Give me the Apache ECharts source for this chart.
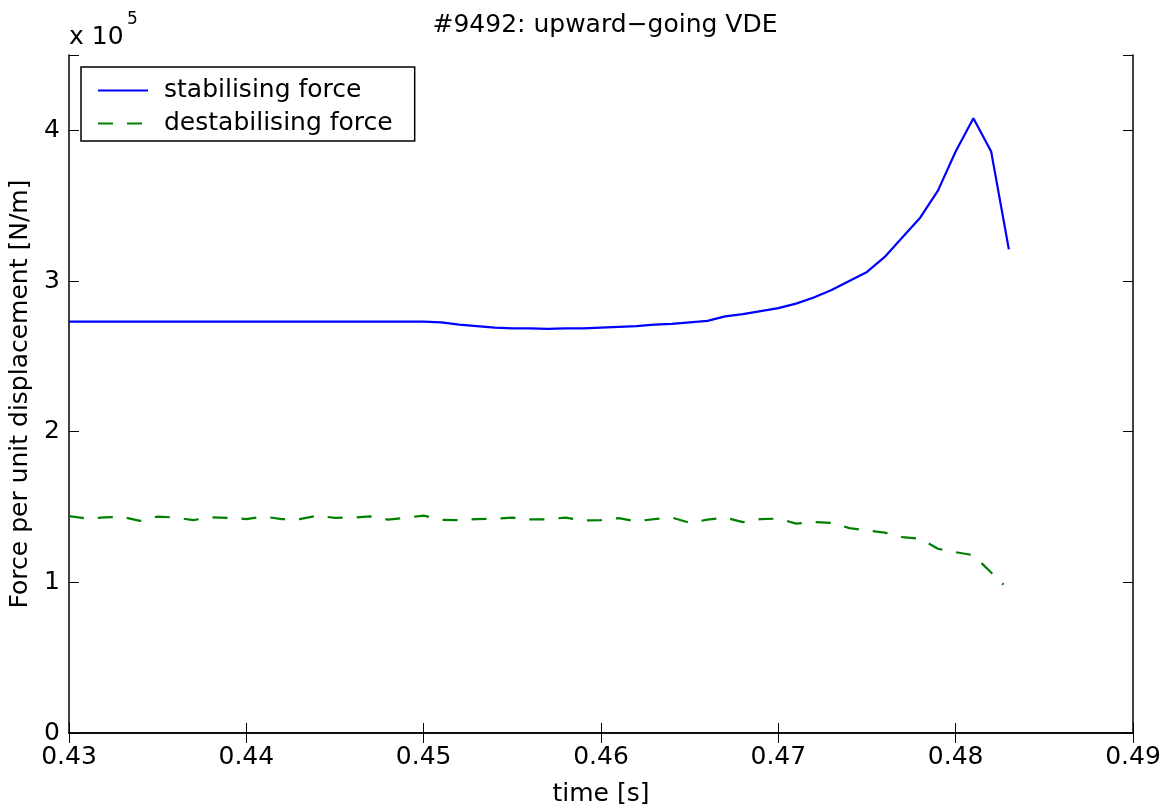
<!DOCTYPE html>
<html>
<head>
<meta charset="utf-8">
<title>#9492: upward−going VDE</title>
<script src="https://cdn.jsdelivr.net/npm/echarts@6/dist/echarts.min.js"></script>
<style>
  html, body { margin: 0; padding: 0; background: #fff; }
  #chart { width: 1171px; height: 812px; }
</style>
</head>
<body>
<div id="chart"></div>
<script>
// Shot #9492, upward-going vertical displacement event.
// Forces are in units of 1e5 N/m (the axis carries the "x 10^5" multiplier).

const timeStab = [
  0.430, 0.431, 0.432, 0.433, 0.434, 0.435, 0.436, 0.437, 0.438, 0.439,
  0.440, 0.441, 0.442, 0.443, 0.444, 0.445, 0.446, 0.447, 0.448, 0.449,
  0.450, 0.451, 0.452, 0.453, 0.454, 0.455, 0.456, 0.457, 0.458, 0.459,
  0.460, 0.461, 0.462, 0.463, 0.464, 0.465, 0.466, 0.467, 0.468, 0.469,
  0.470, 0.471, 0.472, 0.473, 0.474, 0.475, 0.476, 0.477, 0.478, 0.479,
  0.480, 0.481, 0.482, 0.483
];
const stabilising = [
  2.73, 2.73, 2.73, 2.73, 2.73, 2.73, 2.73, 2.73, 2.73, 2.73,
  2.73, 2.73, 2.73, 2.73, 2.73, 2.73, 2.73, 2.73, 2.73, 2.73,
  2.73, 2.725, 2.71, 2.70, 2.69, 2.685, 2.685, 2.682, 2.685, 2.685,
  2.69, 2.695, 2.70, 2.71, 2.715, 2.725, 2.735, 2.765, 2.78, 2.80,
  2.82, 2.85, 2.89, 2.94, 3.00, 3.06, 3.16, 3.29, 3.42, 3.60,
  3.86, 4.08, 3.86, 3.21
];

const timeDestab = [
  0.430, 0.431, 0.432, 0.433, 0.434, 0.435, 0.436, 0.437, 0.438, 0.439,
  0.440, 0.441, 0.442, 0.443, 0.444, 0.445, 0.446, 0.447, 0.448, 0.449,
  0.450, 0.451, 0.452, 0.453, 0.454, 0.455, 0.456, 0.457, 0.458, 0.459,
  0.460, 0.461, 0.462, 0.463, 0.464, 0.465, 0.466, 0.467, 0.468, 0.469,
  0.470, 0.471, 0.472, 0.473, 0.474, 0.475, 0.476, 0.477, 0.478, 0.479,
  0.480, 0.481, 0.482, 0.4827
];
const destabilising = [
  1.439, 1.423, 1.431, 1.434, 1.408, 1.436, 1.430, 1.413, 1.431, 1.428,
  1.420, 1.436, 1.420, 1.420, 1.442, 1.428, 1.430, 1.438, 1.416, 1.429,
  1.443, 1.415, 1.413, 1.420, 1.421, 1.430, 1.418, 1.418, 1.430, 1.410,
  1.413, 1.426, 1.405, 1.420, 1.430, 1.395, 1.416, 1.430, 1.400, 1.420,
  1.423, 1.390, 1.400, 1.395, 1.360, 1.345, 1.330, 1.300, 1.290, 1.223,
  1.200, 1.180, 1.065, 0.985
];

const xTicks = { min: 0.43, max: 0.49, step: 0.01 };
const yTicks = { min: 0, max: 4.5, step: 1 };

const FONT = 'DejaVu Sans';
const FS = 25;

function pairs(xs, ys) { return xs.map((x, i) => [x, ys[i]]); }

const frame = { lineStyle: { color: '#000', width: 1.5 } };
const tickIn = { show: true, inside: true, length: 10, lineStyle: { color: '#000', width: 1 } };

const chart = echarts.init(document.getElementById('chart'), null, { renderer: 'canvas' });

chart.setOption({
  backgroundColor: '#fff',
  animation: false,
  textStyle: { fontFamily: FONT },
  title: {
    text: '#9492: upward−going VDE',
    left: 600, top: 8, textAlign: 'center',
    textStyle: { fontFamily: FONT, fontSize: FS, fontWeight: 'normal', color: '#000' }
  },
  grid: { left: 69, right: 38, top: 55, bottom: 76, containLabel: false },
  legend: {
    left: 81, top: 67,
    orient: 'vertical',
    backgroundColor: '#fff',
    borderColor: '#000', borderWidth: 1.5, borderRadius: 0,
    padding: [11, 22, 5, 16],
    itemWidth: 50, itemHeight: 20, itemGap: 8,
    itemStyle: { opacity: 0 },
    textStyle: { fontFamily: FONT, fontSize: FS, color: '#000', padding: [0, 0, 0, 11] },
    data: ['stabilising force', 'destabilising force']
  },
  xAxis: [
    {
      type: 'value', position: 'bottom',
      min: xTicks.min, max: xTicks.max, interval: xTicks.step,
      name: 'time [s]', nameLocation: 'middle', nameGap: 49,
      nameTextStyle: { fontFamily: FONT, fontSize: FS, color: '#000' },
      axisLine: frame, axisTick: tickIn, splitLine: { show: false },
      axisLabel: { fontFamily: FONT, fontSize: FS, color: '#000', margin: 12,
        formatter: v => v.toFixed(2) }
    },
    {
      type: 'value', position: 'top',
      min: xTicks.min, max: xTicks.max, interval: xTicks.step,
      axisLine: frame, axisTick: tickIn, splitLine: { show: false },
      axisLabel: { show: false }
    }
  ],
  yAxis: [
    {
      type: 'value', position: 'left',
      min: yTicks.min, max: yTicks.max, interval: yTicks.step,
      name: 'Force per unit displacement [N/m]', nameLocation: 'middle', nameGap: 28,
      nameRotate: 90,
      nameTextStyle: { fontFamily: FONT, fontSize: FS, color: '#000' },
      axisLine: frame, axisTick: tickIn, splitLine: { show: false },
      axisLabel: { fontFamily: FONT, fontSize: FS, color: '#000', margin: 9,
        formatter: v => (v > 4 ? '' : String(Math.round(v))) }
    },
    {
      type: 'value', position: 'right',
      min: yTicks.min, max: yTicks.max, interval: yTicks.step,
      axisLine: frame, axisTick: tickIn, splitLine: { show: false },
      axisLabel: { show: false }
    }
  ],
  series: [
    {
      name: 'stabilising force', type: 'line',
      data: pairs(timeStab, stabilising),
      symbol: 'none', showSymbol: false,
      lineStyle: { color: '#0000ff', width: 2.2 },
      itemStyle: { color: '#0000ff', opacity: 0 }
    },
    {
      name: 'destabilising force', type: 'line',
      data: pairs(timeDestab, destabilising),
      symbol: 'none', showSymbol: false,
      lineStyle: { color: '#008000', width: 2.2, type: [15, 14] },
      itemStyle: { color: '#008000', opacity: 0 }
    }
  ],
  graphic: [
    {
      type: 'text', left: 69, top: 25,
      style: { text: 'x 10', fontFamily: FONT, fontSize: FS, fill: '#000' }
    },
    {
      type: 'text', left: 127, top: 11,
      style: { text: '5', fontFamily: FONT, fontSize: 17, fill: '#000' }
    }
  ]
});
</script>
</body>
</html>
